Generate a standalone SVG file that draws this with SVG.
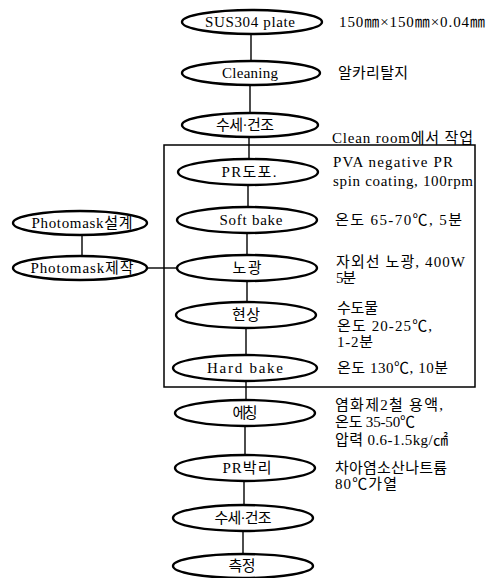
<svg xmlns="http://www.w3.org/2000/svg" width="491" height="578" viewBox="0 0 491 578">
<style>
text{font-family:"Liberation Serif","Noto Sans CJK KR",serif;font-size:15px;fill:#000}
.lbl{text-anchor:middle}
.node ellipse{fill:#fff;stroke:#000;stroke-width:2.4}
.conn line{stroke:#000;stroke-width:1.4}
.box{fill:none;stroke:#000;stroke-width:1.5}
</style>
<rect width="491" height="578" fill="#fff"/>
<rect class="box" x="164" y="145" width="311" height="242"/>
<g id="connectors" class="conn">
<line x1="251" y1="34" x2="251" y2="61"/>
<line x1="250" y1="85" x2="250" y2="113"/>
<line x1="249" y1="137" x2="249" y2="159"/>
<line x1="248" y1="185" x2="248" y2="207"/>
<line x1="247" y1="233" x2="247" y2="255"/>
<line x1="247" y1="281" x2="247" y2="302"/>
<line x1="246" y1="328" x2="246" y2="355"/>
<line x1="246" y1="381" x2="246" y2="400"/>
<line x1="245" y1="426" x2="245" y2="455"/>
<line x1="244" y1="481" x2="244" y2="505"/>
<line x1="243" y1="531" x2="243" y2="554"/>
<line x1="82" y1="235" x2="82" y2="256"/>
<line x1="147" y1="268" x2="177" y2="268"/>
</g>
<g id="n-sus" class="node"><ellipse cx="252" cy="22" rx="70" ry="12"/><text class="lbl" x="250" y="27" textLength="90">SUS304 plate</text></g>
<g id="n-cleaning" class="node"><ellipse cx="251" cy="73" rx="69" ry="12"/><text class="lbl" x="250" y="78" textLength="56">Cleaning</text></g>
<g id="n-wash1" class="node"><ellipse cx="250" cy="125" rx="68" ry="12"/><text class="lbl" x="245" y="130" textLength="58">수세·건조</text></g>
<g id="n-prcoat" class="node"><ellipse cx="248" cy="172" rx="70" ry="13"/><text class="lbl" x="249" y="177" textLength="55">PR도포.</text></g>
<g id="n-softbake" class="node"><ellipse cx="247" cy="220" rx="70" ry="13"/><text class="lbl" x="251" y="225" textLength="63">Soft bake</text></g>
<g id="n-expose" class="node"><ellipse cx="247" cy="268" rx="70" ry="13"/><text class="lbl" x="247" y="273" textLength="29">노광</text></g>
<g id="n-develop" class="node"><ellipse cx="246" cy="315" rx="70" ry="13"/><text class="lbl" x="246" y="320" textLength="28">현상</text></g>
<g id="n-hardbake" class="node"><ellipse cx="245" cy="368" rx="72" ry="13"/><text class="lbl" x="245" y="373" textLength="76">Hard bake</text></g>
<g id="n-etch" class="node"><ellipse cx="245" cy="413" rx="70" ry="13"/><text class="lbl" x="245" y="418" textLength="25">에칭</text></g>
<g id="n-strip" class="node"><ellipse cx="245" cy="468" rx="70" ry="13"/><text class="lbl" x="247" y="473" textLength="49">PR박리</text></g>
<g id="n-wash2" class="node"><ellipse cx="243" cy="518" rx="70" ry="13"/><text class="lbl" x="243" y="523" textLength="57">수세·건조</text></g>
<g id="n-measure" class="node"><ellipse cx="243" cy="566" rx="70" ry="12"/><text class="lbl" x="242" y="571" textLength="27">측정</text></g>
<g id="n-maskdesign" class="node"><ellipse cx="80" cy="223" rx="67" ry="12"/><text class="lbl" x="82" y="228" textLength="101">Photomask설계</text></g>
<g id="n-maskmake" class="node"><ellipse cx="80" cy="268" rx="67" ry="12"/><text class="lbl" x="82" y="273" textLength="103">Photomask제작</text></g>
<g id="notes">
<text x="339" y="27" textLength="146">150㎜×150㎜×0.04㎜</text>
<text x="338" y="78" textLength="70">알카리탈지</text>
<text x="332" y="143" textLength="141">Clean room에서 작업</text>
<text x="333" y="167" textLength="120">PVA negative PR</text>
<text x="333" y="186" textLength="140">spin coating, 100rpm</text>
<text x="335" y="225" textLength="127">온도 65-70℃, 5분</text>
<text x="336" y="267" textLength="129">자외선 노광, 400W</text>
<text x="336" y="283" textLength="20">5분</text>
<text x="337" y="313" textLength="41">수도물</text>
<text x="337" y="331" textLength="95">온도 20-25℃,</text>
<text x="337" y="347" textLength="36">1-2분</text>
<text x="337" y="373" textLength="111">온도 130℃, 10분</text>
<text x="335" y="410" textLength="108">염화제2철 용액,</text>
<text x="335" y="427" textLength="80">온도 35-50℃</text>
<text x="335" y="445" textLength="113">압력 0.6-1.5kg/㎠</text>
<text x="335" y="473" textLength="112">차아염소산나트륨</text>
<text x="335" y="489" textLength="62">80℃가열</text>
</g>
</svg>
